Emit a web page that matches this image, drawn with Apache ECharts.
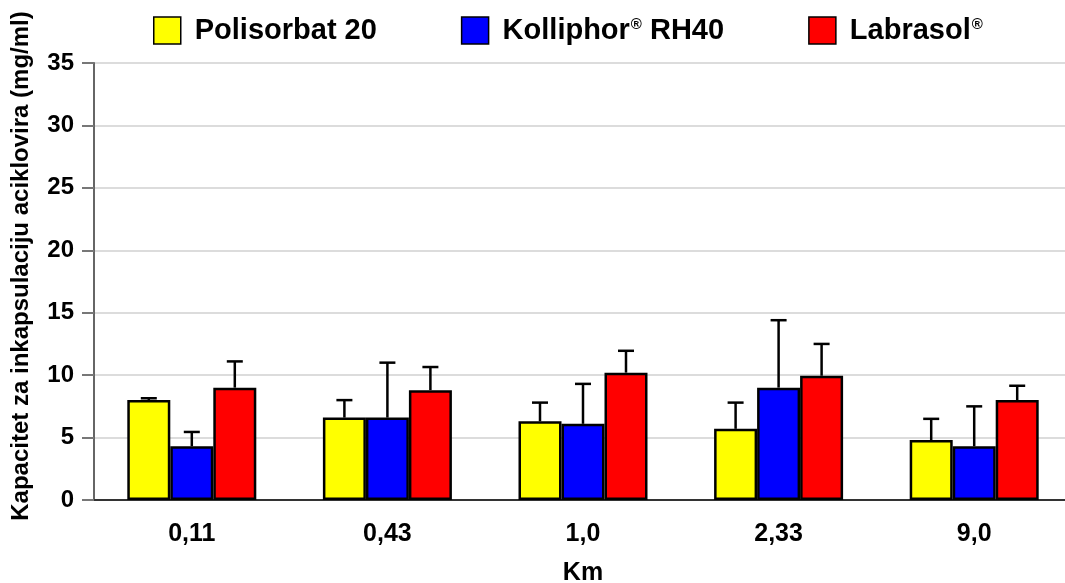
<!DOCTYPE html>
<html>
<head>
<meta charset="utf-8">
<script src="https://cdn.jsdelivr.net/npm/echarts@6/dist/echarts.min.js"></script>
<style>
  html, body { margin: 0; padding: 0; background: #fff; }
  #chart { width: 1065px; height: 583px; }
</style>
</head>
<body>
<div id="chart"></div>
<script>
// Km kategorije
var categories = ['0,11', '0,43', '1,0', '2,33', '9,0'];
var seriesNames = ['Polisorbat 20', 'Kolliphor® RH40', 'Labrasol®'];
// srednje vrijednosti (mg/ml)
var polisorbat = [8.0, 6.6, 6.3, 5.7, 4.8];
var kolliphor = [4.3, 6.6, 6.1, 9.0, 4.3];
var labrasol = [9.0, 8.8, 10.2, 9.95, 8.0];
// SD (gornji error bar)
var polisorbatSd = [0.15, 1.4, 1.5, 2.1, 1.7];
var kolliphorSd = [1.15, 4.4, 3.2, 5.4, 3.2];
var labrasolSd = [2.1, 1.85, 1.75, 2.55, 1.15];
var yTicks = [0, 5, 10, 15, 20, 25, 30, 35];

var colors = ['#ffff00', '#0000ff', '#ff0000'];
var BAR_W = 43;
var font = 'Liberation Sans, Arial, sans-serif';

var values = [polisorbat, kolliphor, labrasol];
var sds = [polisorbatSd, kolliphorSd, labrasolSd];

var errData = [];
for (var s = 0; s < 3; s++) {
  for (var i = 0; i < categories.length; i++) {
    errData.push([i, values[s][i], values[s][i] + sds[s][i], s]);
  }
}

function renderErr(params, api) {
  var idx = api.value(0);
  var off = (api.value(3) - 1) * BAR_W;
  var p0 = api.coord([idx, api.value(1)]);
  var p1 = api.coord([idx, api.value(2)]);
  var x = p0[0] + off;
  var cap = 8;
  var st = { stroke: '#000', lineWidth: 2.5 };
  return {
    type: 'group',
    children: [
      { type: 'line', shape: { x1: x, y1: p0[1], x2: x, y2: p1[1] }, style: st },
      { type: 'line', shape: { x1: x - cap, y1: p1[1], x2: x + cap, y2: p1[1] }, style: st }
    ]
  };
}

var myChart = echarts.init(document.getElementById('chart'));

var barSeries = seriesNames.map(function (name, k) {
  return {
    name: name,
    type: 'bar',
    data: values[k],
    barWidth: BAR_W,
    barGap: '0%',
    itemStyle: { color: colors[k], borderColor: '#000', borderWidth: 2.5 },
    z: 2
  };
});

var option = {
  animation: false,
  color: colors,
  textStyle: { fontFamily: font },
  legend: {
    data: seriesNames,
    left: 148,
    top: 11,
    icon: 'rect',
    itemWidth: 27,
    itemHeight: 27,
    itemGap: 84,
    itemStyle: { borderColor: '#000', borderWidth: 1.5 },
    formatter: function (name) {
      return name.replace('®', '{sup|®}');
    },
    textStyle: {
      fontSize: 29,
      fontWeight: 'bold',
      color: '#000',
      padding: [0, 0, 0, 9],
      rich: {
        sup: { fontSize: 15, padding: [0, 0, 12, 1], color: '#000' }
      }
    }
  },
  grid: { left: 94, top: 63, width: 978, height: 437, outerBoundsMode: 'none', containLabel: false },
  xAxis: {
    type: 'category',
    data: categories,
    name: 'Km',
    nameLocation: 'middle',
    nameGap: 61,
    nameTextStyle: { fontSize: 25, fontWeight: 'bold', color: '#000' },
    axisLine: { lineStyle: { color: '#333', width: 2 } },
    axisTick: { length: 11, lineStyle: { color: '#666', width: 2 } },
    axisLabel: { fontSize: 25, fontWeight: 'bold', color: '#000', margin: 22 }
  },
  yAxis: {
    type: 'value',
    min: 0,
    max: 35,
    interval: 5,
    axisLine: { show: true, lineStyle: { color: '#666', width: 2 } },
    axisTick: { show: true, length: 12, lineStyle: { color: '#777', width: 2 } },
    axisLabel: { fontSize: 24, fontWeight: 'bold', color: '#000', margin: 20 },
    splitLine: { lineStyle: { color: '#dcdcdc', width: 2 } }
  },
  graphic: [{
    type: 'text',
    x: 21,
    y: 266,
    rotation: Math.PI / 2,
    style: {
      text: 'Kapacitet za inkapsulaciju aciklovira (mg/ml)',
      fontSize: 24,
      fontWeight: 'bold',
      fontFamily: font,
      fill: '#000',
      textAlign: 'center',
      textVerticalAlign: 'middle'
    }
  }],
  series: barSeries.concat([{
    type: 'custom',
    name: 'SD',
    data: errData,
    renderItem: renderErr,
    z: 3
  }])
};

myChart.setOption(option);
</script>
</body>
</html>
